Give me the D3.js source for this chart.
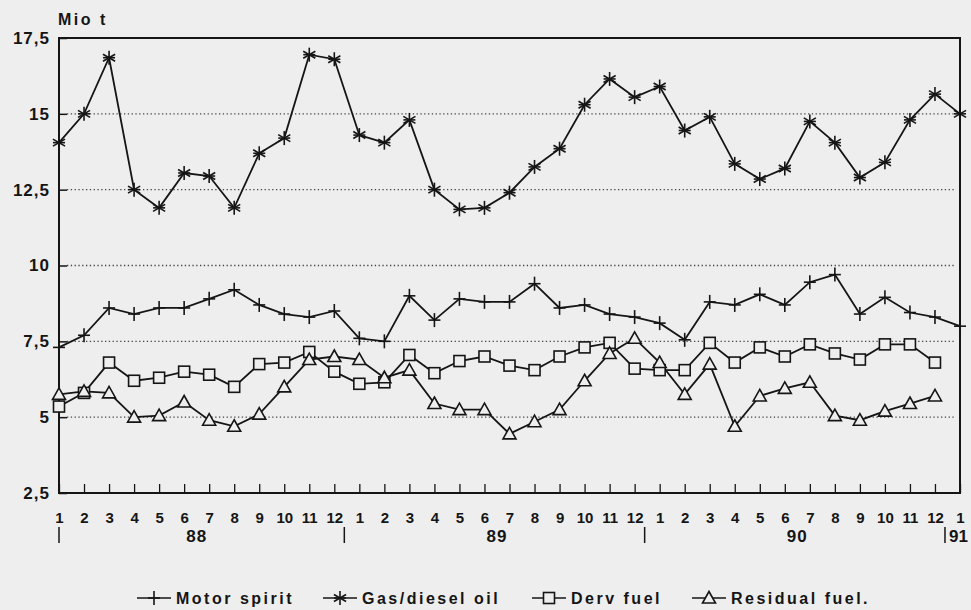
<!DOCTYPE html>
<html><head><meta charset="utf-8">
<script src="https://cdn.jsdelivr.net/npm/d3@7"></script>
<style>
html,body{margin:0;padding:0;background:#eeeeee;}
svg{display:block;font-family:"Liberation Sans",Arial,sans-serif;font-weight:bold;}
</style></head>
<body>
<svg id="chart" width="971" height="610"></svg>
<script>
// ---- data ----
const monthLabels = ["1","2","3","4","5","6","7","8","9","10","11","12",
                     "1","2","3","4","5","6","7","8","9","10","11","12",
                     "1","2","3","4","5","6","7","8","9","10","11","12","1"];
const yearLabels = ["88","89","90","91"];
const yTickValues = [2.5,5,7.5,10,12.5,15,17.5];
const yTickLabels = ["2,5","5","7,5","10","12,5","15","17,5"];
const seriesNames = ["Motor spirit","Gas/diesel oil","Derv fuel","Residual fuel."];

const motorSpirit = [7.3,7.7,8.6,8.4,8.6,8.6,8.9,9.2,8.7,8.4,8.3,8.5,
                     7.6,7.5,9.0,8.2,8.9,8.8,8.8,9.4,8.6,8.7,8.4,8.3,
                     8.1,7.55,8.8,8.7,9.05,8.7,9.45,9.7,8.4,8.95,8.45,8.3,8.0];
const gasDieselOil = [14.05,15.0,16.85,12.5,11.9,13.05,12.95,11.9,13.7,14.2,16.95,16.8,
                      14.3,14.05,14.8,12.5,11.85,11.9,12.4,13.25,13.85,15.3,16.15,15.55,
                      15.9,14.45,14.9,13.35,12.85,13.2,14.75,14.05,12.9,13.4,14.8,15.65,15.0];
const dervFuel = [5.35,5.8,6.8,6.2,6.3,6.5,6.4,6.0,6.75,6.8,7.15,6.5,
                  6.1,6.15,7.05,6.45,6.85,7.0,6.7,6.55,7.0,7.3,7.45,6.6,
                  6.55,6.55,7.45,6.8,7.3,7.0,7.4,7.1,6.9,7.4,7.4,6.8,null];
const residualFuel = [5.75,5.85,5.8,5.0,5.05,5.5,4.9,4.7,5.1,6.0,6.9,7.0,
                      6.9,6.3,6.55,5.45,5.25,5.25,4.45,4.85,5.25,6.2,7.1,7.6,
                      6.8,5.75,6.75,4.7,5.7,5.95,6.15,5.05,4.9,5.2,5.45,5.7,null];

// ---- layout ----
const svg = d3.select("#chart");
const bg = "#eeeeee";
const ink = "#151515";
const L = 59, R = 960, T = 38, B = 493;
const x = d3.scaleLinear().domain([0, monthLabels.length - 1]).range([L, R]);
const y = d3.scaleLinear().domain([2.5, 17.5]).range([B, T]);

svg.append("rect").attr("width",971).attr("height",610).attr("fill",bg);

// grid
svg.append("g").selectAll("line").data(yTickValues.filter(v => v > 2.5 && v < 17.5))
  .join("line")
  .attr("x1", L + 8).attr("x2", R - 4)
  .attr("y1", d => y(d)).attr("y2", d => y(d))
  .attr("stroke", "#444").attr("stroke-width", 1.3).attr("stroke-dasharray", "1.3,2.5");

// y axis
const yAxis = svg.append("g").attr("transform", `translate(${L},0)`)
  .call(d3.axisLeft(y).tickValues(yTickValues).tickSize(-8).tickPadding(9)
        .tickFormat((d,i) => yTickLabels[i]));
yAxis.select(".domain").remove();
yAxis.selectAll(".tick line").attr("stroke", ink).attr("stroke-width", 1.5);
yAxis.selectAll("text").attr("font-size", 17).attr("font-weight","bold")
  .attr("fill", ink).attr("letter-spacing", 1).attr("font-family","Liberation Sans, Arial, sans-serif");

// x axis
const xAxis = svg.append("g").attr("transform", `translate(0,${B})`)
  .call(d3.axisBottom(x).tickValues(d3.range(monthLabels.length)).tickSize(-9).tickPadding(19)
        .tickFormat(i => monthLabels[i]));
xAxis.select(".domain").remove();
xAxis.selectAll(".tick line").attr("stroke", ink).attr("stroke-width", 1.3);
xAxis.selectAll("text").attr("font-size", 15).attr("font-weight","bold")
  .attr("fill", ink).attr("font-family","Liberation Sans, Arial, sans-serif");

// frame
svg.append("rect").attr("x", L).attr("y", T).attr("width", R - L).attr("height", B - T)
  .attr("fill", "none").attr("stroke", ink).attr("stroke-width", 2);

// year labels and separators
const yearCenters = [5.5, 17.5, 29.5];
svg.append("g").selectAll("text").data(yearLabels.slice(0,3)).join("text")
  .attr("x", (d,i) => x(yearCenters[i])).attr("y", 542)
  .attr("text-anchor","middle").attr("font-size",17).attr("letter-spacing",1)
  .attr("fill", ink).text(d => d);
svg.append("text").attr("x", x(36) - 11).attr("y", 542).attr("font-size",17)
  .attr("fill", ink).text(yearLabels[3]);
const sepPos = [0, 11.4, 23.4, 35.4];
svg.append("g").selectAll("line").data(sepPos).join("line")
  .attr("x1", d => x(d)).attr("x2", d => x(d)).attr("y1", 527).attr("y2", 543)
  .attr("stroke", ink).attr("stroke-width", 1.5);

// title
svg.append("text").attr("x", 58).attr("y", 25).attr("font-size", 16)
  .attr("letter-spacing", 2.5).attr("fill", ink).text("Mio t");

// ---- markers ----
function drawMarker(g, type, cx, cy) {
  const s = g.append("g").attr("transform", `translate(${cx},${cy})`)
    .attr("stroke", ink).attr("stroke-width", 1.6).attr("fill", bg);
  if (type === 0) {
    s.append("line").attr("x1",-6).attr("x2",6).attr("y1",0).attr("y2",0);
    s.append("line").attr("x1",0).attr("x2",0).attr("y1",-7).attr("y2",7);
  } else if (type === 1) {
    const r = 7;
    [90, 30, -30].forEach(a => {
      const rad = a * Math.PI / 180;
      s.append("line").attr("x1", -r*Math.cos(rad)).attr("y1", -r*Math.sin(rad))
        .attr("x2", r*Math.cos(rad)).attr("y2", r*Math.sin(rad));
    });
    s.append("line").attr("x1",-6).attr("x2",6).attr("y1",0).attr("y2",0);
  } else if (type === 2) {
    s.append("rect").attr("x",-5.5).attr("y",-5.5).attr("width",11).attr("height",11);
  } else {
    s.append("path").attr("d","M0,-6.5L6.5,5L-6.5,5Z");
  }
}

const allSeries = [motorSpirit, gasDieselOil, dervFuel, residualFuel];
const line = d3.line().defined(d => d != null).x((d,i) => x(i)).y(d => y(d));
allSeries.forEach((vals, k) => {
  svg.append("path").datum(vals).attr("d", line)
    .attr("fill","none").attr("stroke", ink).attr("stroke-width", 1.8);
});
allSeries.forEach((vals, k) => {
  const g = svg.append("g");
  vals.forEach((v, i) => { if (v != null) drawMarker(g, k, x(i), y(v)); });
});

// ---- legend ----
const legendSymX = [137, 323, 532, 692];
const lg = svg.append("g");
seriesNames.forEach((name, k) => {
  const sx = legendSymX[k], sy = 598;
  lg.append("line").attr("x1", sx).attr("x2", sx + 34).attr("y1", sy).attr("y2", sy)
    .attr("stroke", ink).attr("stroke-width", 1.5);
  drawMarker(lg, k, sx + 17, sy);
  lg.append("text").attr("x", sx + 39).attr("y", sy + 6).attr("font-size", 16)
    .attr("letter-spacing", 2.5).attr("fill", ink).text(name);
});
</script>
</body></html>
